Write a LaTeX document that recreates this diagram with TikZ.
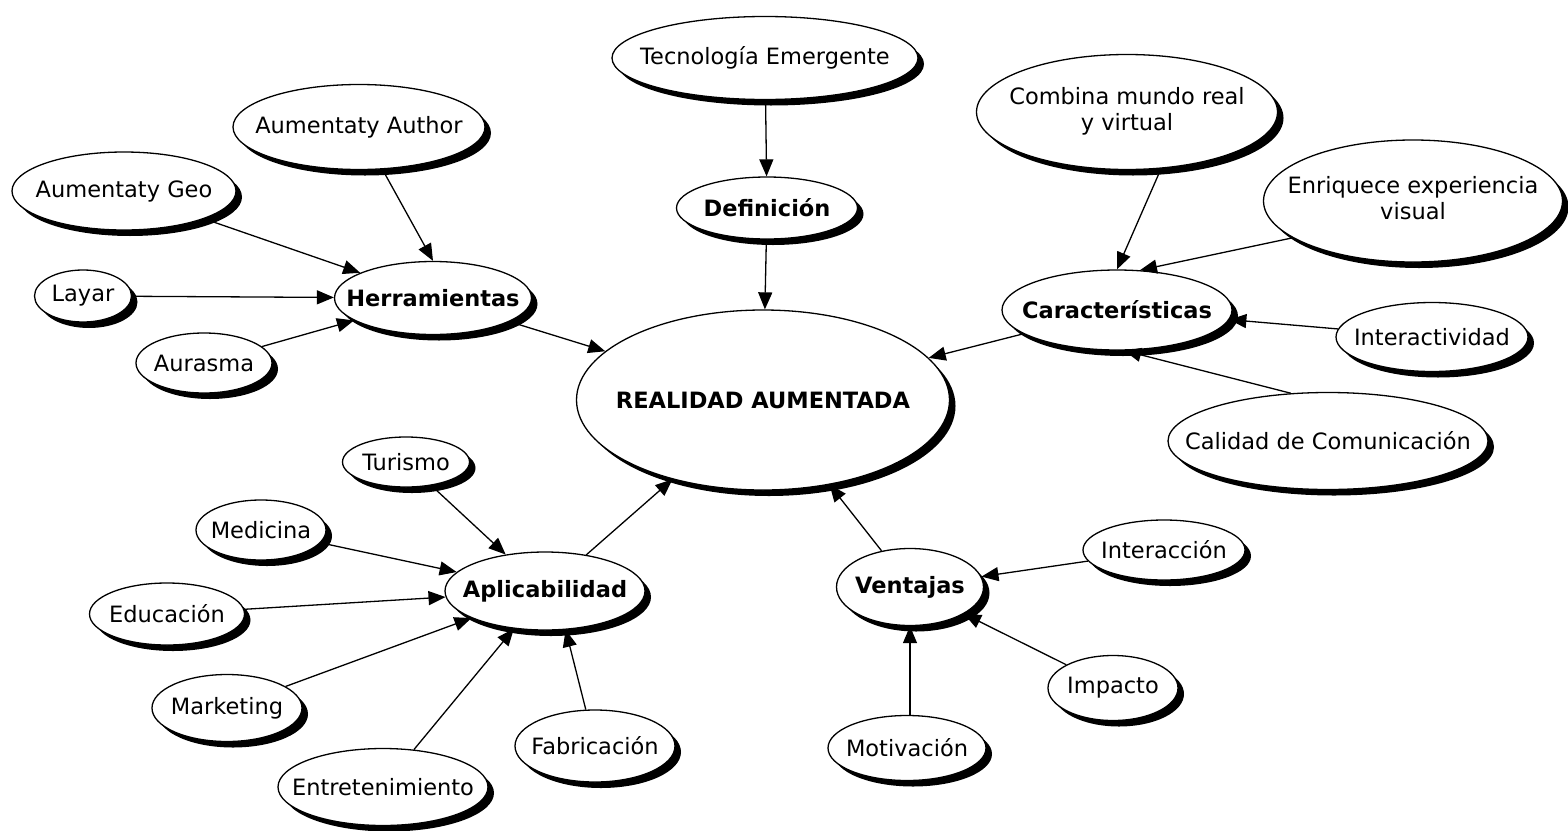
\documentclass[tikz,border=0pt]{standalone}
\usepackage{fontspec}
\setmainfont{DejaVu Sans}
\usetikzlibrary{shapes.geometric,shadows,arrows.meta}
\newcommand\zw[1]{\makebox[0pt]{#1}}
\newcommand\zwtwo[2]{\makebox[0pt]{\begin{tabular}{@{}c@{}}#1\\#2\end{tabular}}}
\tikzset{
  bub/.style n args={2}{ellipse, draw=black, line width=1.3pt, fill=white,
    minimum width=#1pt, minimum height=#2pt, inner sep=0pt,
    font=\fontsize{22.5}{26}\selectfont,
    drop shadow={shadow xshift=6pt, shadow yshift=-6pt, fill=black, opacity=1}},
  hub/.style={font=\fontsize{22.5}{26}\selectfont\bfseries},
  link/.style={line width=1.3pt, -{Triangle[length=17pt,width=14pt]}}
}
\begin{document}
\begin{tikzpicture}[x=1pt,y=-1pt]
\useasboundingbox (0,0) rectangle (1568,830);
% centre
\node[bub={373}{180}, hub] (ra) at (763,400) {\zw{REALIDAD AUMENTADA}};
% definicion
\node[bub={306}{83}] (tec) at (765,58) {\zw{Tecnología Emergente}};
\node[bub={181}{62}, hub] (def) at (767,208) {\zw{Definición}};
% herramientas
\node[bub={197}{73}, hub] (her) at (433,298) {\zw{Herramientas}};
\node[bub={252}{85}] (aau) at (359,127) {\zw{Aumentaty Author}};
\node[bub={224}{78}] (ageo) at (124,191) {\zw{Aumentaty Geo}};
\node[bub={97}{52}] (lay) at (83,296) {\zw{Layar}};
\node[bub={136}{60}] (aur) at (204,363) {\zw{Aurasma}};
% caracteristicas
\node[bub={230}{80}, hub] (car) at (1117,310) {\zw{Características}};
\node[bub={301}{115}] (comb) at (1127,112) {\zwtwo{Combina mundo real}{y virtual}};
\node[bub={299}{122}] (enr) at (1413,201) {\zwtwo{Enriquece experiencia}{visual}};
\node[bub={192}{69}] (intv) at (1432,337) {\zw{Interactividad}};
\node[bub={320}{97}] (cal) at (1328,441) {\zw{Calidad de Comunicación}};
% aplicabilidad
\node[bub={200}{78}, hub] (apl) at (545,591) {\zw{Aplicabilidad}};
\node[bub={127}{50}] (tur) at (406,462) {\zw{Turismo}};
\node[bub={130}{60}] (med) at (261,530) {\zw{Medicina}};
\node[bub={155}{62}] (edu) at (167,614) {\zw{Educación}};
\node[bub={150}{67}] (mar) at (227,708) {\zw{Marketing}};
\node[bub={210}{77}] (ent) at (383,787) {\zw{Entretenimiento}};
\node[bub={160}{72}] (fab) at (595,746) {\zw{Fabricación}};
% ventajas
\node[bub={147}{77}, hub] (ven) at (910,587) {\zw{Ventajas}};
\node[bub={162}{60}] (inter) at (1164,550) {\zw{Interacción}};
\node[bub={130}{65}] (imp) at (1113,688) {\zw{Impacto}};
\node[bub={158}{65}] (mot) at (907,748) {\zw{Motivación}};
% links
\draw[link] (tec) -- (def);
\draw[link] (def) -- (ra);
\draw[link] (her) -- (ra);
\draw[link] (car) -- (ra);
\draw[link] (apl) -- (ra);
\draw[link] (ven) -- (ra);
\draw[link] (aau) -- (her.north);
\draw[link] (ageo) -- (her);
\draw[link] (lay) -- (her);
\draw[link] (aur) -- (her);
\draw[link] (comb.-59) -- (car.north);
\draw[link] (enr.197) -- (car.60);
\draw[link] (intv) -- (car);
\draw[link] (cal.128) -- (car.-80);
\draw[link] (tur) -- (apl);
\draw[link] (med) -- (apl);
\draw[link] (edu) -- (apl);
\draw[link] (mar) -- (apl);
\draw[link] (ent) -- (apl);
\draw[link] (fab) -- (apl.-62);
\draw[link] (inter) -- (ven);
\draw[link] (imp) -- (ven);
\draw[link] (mot.north -| ven.south) -- (ven.south);
\end{tikzpicture}
\end{document}
